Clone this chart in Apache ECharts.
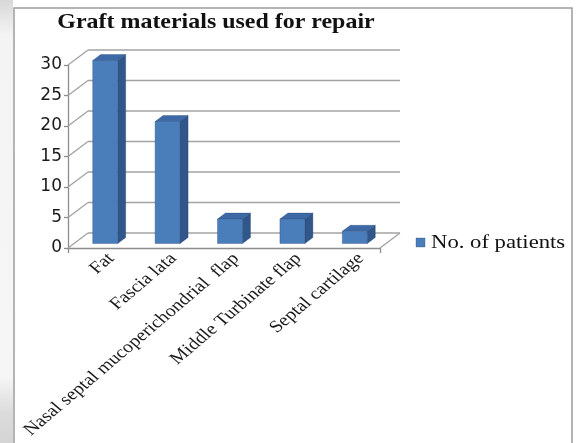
<!DOCTYPE html>
<html>
<head>
<meta charset="utf-8">
<script src="https://cdn.jsdelivr.net/npm/echarts@6/dist/echarts.min.js"></script>
<style>
  html, body { margin: 0; padding: 0; background: #ffffff; }
  #chart { width: 576px; height: 443px; }
</style>
</head>
<body>
<div id="chart"></div>
<script>
// ---- data ----
const categories = [
  'Fat',
  'Fascia lata',
  'Nasal septal mucoperichondrial  flap',
  'Middle Turbinate flap',
  'Septal cartilage'
];
const patients = [30, 20, 4, 4, 2];
const yTicks = [0, 5, 10, 15, 20, 25, 30];
const seriesName = 'No. of patients';
const titleText = 'Graft materials used for repair';

// ---- 3-D box geometry (pixel offset of the back wall from the front plane) ----
const DEPTH_X = 20, DEPTH_Y = -15;
const BAR_FRONT = 0.3, BAR_BACK = 0.7;   // where a column sits inside the depth
const BAR_BAND = 0.4;                    // column width as share of the category band
const STRETCH = 1.18;                    // horizontal stretch of the serif text

const COL_FRONT = '#4a7ebb';
const COL_SIDE = '#30568a';
const COL_TOP = '#3d6aa6';
const GRID_COL = '#a3a3a3';
const AXIS_COL = '#8c8c8c';

const chart = echarts.init(document.getElementById('chart'), null, { renderer: 'canvas' });

// walls and floor of the 3-D plot area
function renderFrame(params, api) {
  const band = api.size([1, 0])[0];
  const n = categories.length;
  const xl = api.coord([0, 0])[0] - band / 2;
  const xr = api.coord([n - 1, 0])[0] + band / 2;
  const y0 = api.coord([0, 0])[1];
  const lineStyle = { stroke: GRID_COL, lineWidth: 1.3, fill: null };
  const children = [];
  yTicks.forEach(function (v) {
    const yv = api.coord([0, v])[1];
    // back wall gridline
    children.push({ type: 'line', shape: { x1: xl + DEPTH_X, y1: yv + DEPTH_Y, x2: xr + DEPTH_X, y2: yv + DEPTH_Y }, style: lineStyle });
    // side wall gridline
    children.push({ type: 'line', shape: { x1: xl, y1: yv, x2: xl + DEPTH_X, y2: yv + DEPTH_Y }, style: lineStyle });
  });
  // right edge of the floor
  children.push({ type: 'line', shape: { x1: xr, y1: y0, x2: xr + DEPTH_X, y2: y0 + DEPTH_Y }, style: lineStyle });
  return { type: 'group', children: children };
}

// one 3-D column per category, plus its rotated category label
function renderColumn(params, api) {
  const i = api.value(0);
  const v = api.value(1);
  const base = api.coord([i, 0]);
  const top = api.coord([i, v]);
  const band = api.size([1, 0])[0];
  const w = band * BAR_BAND;
  const fx = DEPTH_X * BAR_FRONT, fy = DEPTH_Y * BAR_FRONT;
  const dx = DEPTH_X * (BAR_BACK - BAR_FRONT), dy = DEPTH_Y * (BAR_BACK - BAR_FRONT);
  const L = base[0] + fx - w / 2, R = base[0] + fx + w / 2;
  const T = top[1] + fy, B = base[1] + fy;
  const edge = { stroke: 'rgba(30,60,110,0.55)', lineWidth: 0.6 };
  return {
    type: 'group',
    children: [
      { type: 'polygon', shape: { points: [[R, T], [R + dx, T + dy], [R + dx, B + dy], [R, B]] },
        style: Object.assign({ fill: COL_SIDE }, edge) },
      { type: 'polygon', shape: { points: [[L, T], [L + dx, T + dy], [R + dx, T + dy], [R, T]] },
        style: Object.assign({ fill: COL_TOP }, edge) },
      { type: 'rect', shape: { x: L, y: T, width: R - L, height: B - T },
        style: Object.assign({ fill: COL_FRONT }, edge) },
      {
        type: 'group', x: base[0] + 12, y: base[1] + 8, scaleX: STRETCH,
        children: [{
          type: 'text', rotation: Math.PI / 4,
          style: {
            text: categories[i], align: 'right', verticalAlign: 'middle',
            font: '17px "Liberation Serif", "Times New Roman", serif', fill: '#1a1a1a'
          }
        }]
      }
    ]
  };
}

const option = {
  animation: false,
  backgroundColor: '#ffffff',
  grid: { left: 68, right: 196, top: 65, bottom: 195, containLabel: false },
  xAxis: {
    type: 'category',
    data: categories,
    axisLine: { show: true, lineStyle: { color: AXIS_COL, width: 1.3 } },
    axisTick: { show: true, length: 5, lineStyle: { color: AXIS_COL, width: 1.3 } },
    axisLabel: { show: false },
    splitLine: { show: false }
  },
  yAxis: {
    type: 'value',
    min: 0, max: 30, interval: 5,
    axisLine: { show: true, lineStyle: { color: AXIS_COL, width: 1.3 } },
    axisTick: { show: true, length: 4, lineStyle: { color: AXIS_COL, width: 1.3 } },
    axisLabel: {
      margin: 6, color: '#1a1a1a', fontSize: 17, fontFamily: '"DejaVu Sans", sans-serif',
      formatter: function (val) { return yTicks.indexOf(val) >= 0 ? String(val) : ''; }
    },
    splitLine: { show: false }
  },
  graphic: [
    // page shading left of the chart frame
    {
      type: 'rect', left: 0, top: 0, z: -10,
      shape: { width: 13, height: 443 },
      style: {
        fill: new echarts.graphic.LinearGradient(0, 0, 0, 1, [
          { offset: 0, color: '#d8d8d8' },
          { offset: 0.08, color: '#f4f4f4' },
          { offset: 0.85, color: '#f6f6f6' },
          { offset: 0.93, color: '#dcdcdc' },
          { offset: 1, color: '#d4d4d4' }
        ])
      }
    },
    // chart frame
    {
      type: 'rect', z: 10,
      shape: { x: 14, y: 8, width: 558, height: 460 },
      style: { fill: null, stroke: '#9c9c9c', lineWidth: 1.5 }
    },
    // title
    {
      type: 'group', x: 216, y: 23, scaleX: 1.14, z: 10,
      children: [{
        type: 'text',
        style: {
          text: titleText, align: 'center', verticalAlign: 'middle',
          font: 'bold 21px "Liberation Serif", "Times New Roman", serif', fill: '#111111'
        }
      }]
    },
    // legend
    {
      type: 'rect', z: 10,
      shape: { x: 416, y: 238, width: 9, height: 9 },
      style: { fill: COL_FRONT, stroke: 'rgba(30,60,110,0.5)', lineWidth: 0.6 }
    },
    {
      type: 'group', x: 431, y: 243, scaleX: 1.26, z: 10,
      children: [{
        type: 'text',
        style: {
          text: seriesName, align: 'left', verticalAlign: 'middle',
          font: '18px "Liberation Serif", "Times New Roman", serif', fill: '#111111'
        }
      }]
    }
  ],
  series: [
    {
      type: 'custom',
      name: 'frame',
      renderItem: renderFrame,
      data: [[0, 0]],
      z: 1,
      silent: true
    },
    {
      type: 'custom',
      name: seriesName,
      renderItem: renderColumn,
      data: patients.map(function (v, i) { return [i, v]; }),
      encode: { x: 0, y: 1 },
      z: 5,
      clip: false
    }
  ]
};

chart.setOption(option);
</script>
</body>
</html>
